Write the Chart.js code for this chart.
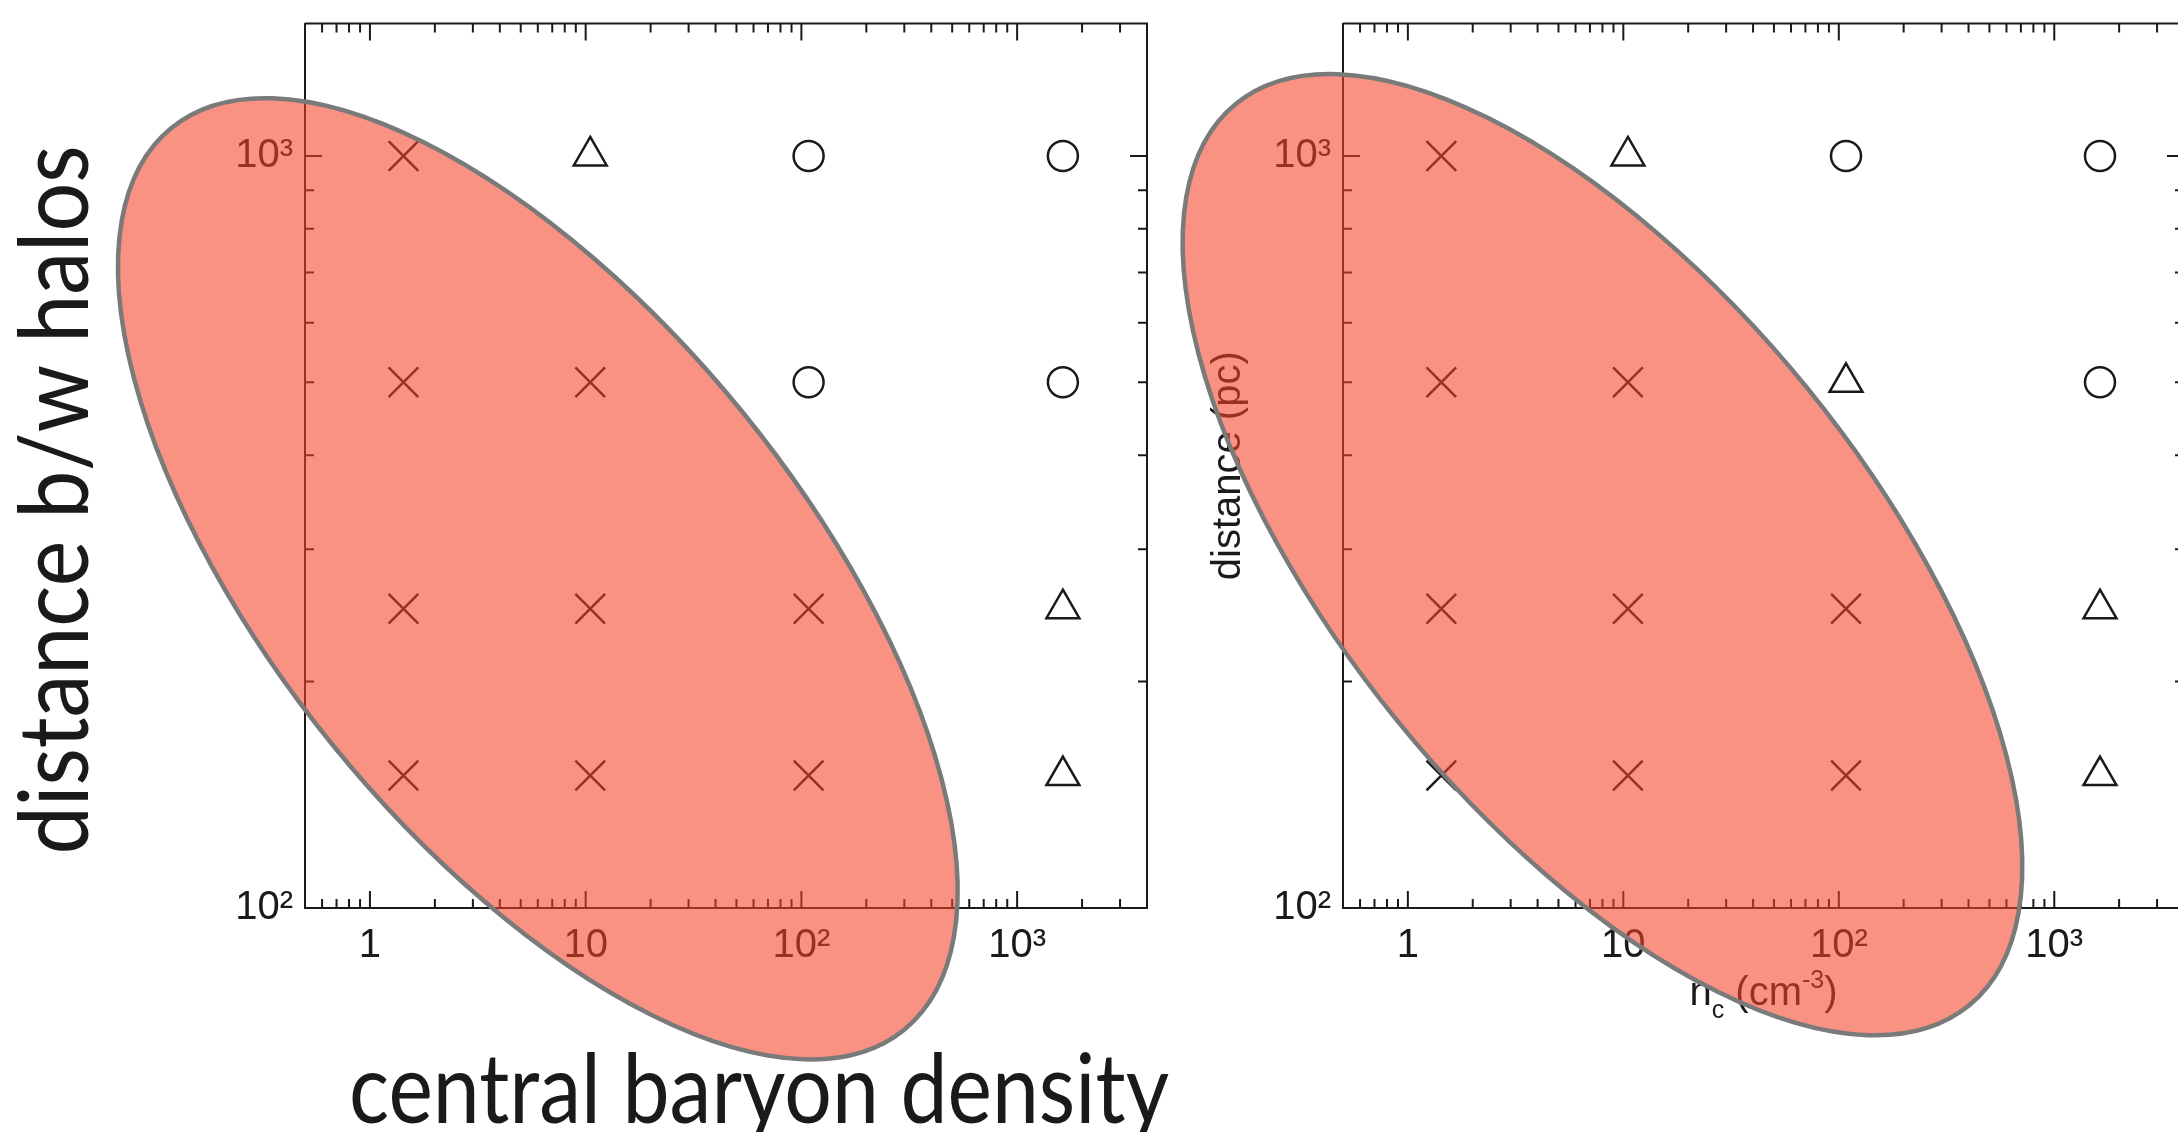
<!DOCTYPE html>
<html>
<head>
<meta charset="utf-8">
<script src="https://cdn.jsdelivr.net/npm/chart.js@4.4.1/dist/chart.umd.min.js"></script>
<style>
  html, body { margin: 0; padding: 0; background: #fff; overflow: hidden; }
  body { width: 2178px; height: 1132px; position: relative; }
  canvas { position: absolute; top: 0; }
  #left { left: 0; }
  #right { left: 1170px; }
</style>
</head>
<body>
<canvas id="left" width="1200" height="1132"></canvas>
<canvas id="right" width="1040" height="1132"></canvas>
<script>
// grid of runs: central density (cm^-3) by halo separation (pc)
const densities = [1.43, 10.5, 108, 1630];
const distances = [1000, 500, 250, 150];

// outcome per row (distance) and column (density): x = cross, t = triangle, o = circle
const outcomesLeft = [
    ['x', 't', 'o', 'o'],
    ['x', 'x', 'o', 'o'],
    ['x', 'x', 'x', 't'],
    ['x', 'x', 'x', 't']
];
const outcomesRight = [
    ['x', 't', 'o', 'o'],
    ['x', 'x', 't', 'o'],
    ['x', 'x', 'x', 't'],
    ['x', 'x', 'x', 't']
];

const xRange = [0.5, 4000];
const yRange = [100, 1500];
const xTickLabels = { 1: '1', 10: '10', 100: '10²', 1000: '10³' };
const yTickLabels = { 100: '10²', 1000: '10³' };
const tickMultipliers = [1, 2, 3, 4, 5, 6, 7, 8, 9];

const ink = '#1a1a1a';
Chart.defaults.font.family = "'Liberation Sans', Arial, sans-serif";

function logTicks(min, max) {
    const out = [];
    for (let e = Math.floor(Math.log10(min)); e <= Math.ceil(Math.log10(max)); e++) {
        tickMultipliers.forEach(m => {
            const v = +(m * Math.pow(10, e)).toPrecision(6);
            if (v >= min && v <= max) out.push(v);
        });
    }
    return out;
}

function isDecade(v) {
    const l = Math.log10(v);
    return Math.abs(l - Math.round(l)) < 1e-9;
}

function pointsFor(outcomes, kind) {
    const pts = [];
    outcomes.forEach((row, i) => {
        row.forEach((k, j) => {
            if (k === kind) pts.push({ x: densities[j], y: distances[i] });
        });
    });
    return pts;
}

// box + inward ticks on all four sides
const frameTicks = {
    id: 'frameTicks',
    afterDatasetsDraw(chart) {
        const { ctx, chartArea: a, scales: { x, y } } = chart;
        ctx.save();
        ctx.strokeStyle = ink;
        ctx.lineWidth = 2;
        ctx.beginPath();
        ctx.moveTo(a.left, a.top);
        ctx.lineTo(a.right, a.top);
        ctx.lineTo(a.right, a.bottom);
        x.ticks.forEach(t => {
            const px = x.getPixelForValue(t.value);
            const len = isDecade(t.value) ? 17 : 9;
            ctx.moveTo(px, a.bottom); ctx.lineTo(px, a.bottom - len);
            ctx.moveTo(px, a.top); ctx.lineTo(px, a.top + len);
        });
        y.ticks.forEach(t => {
            const py = y.getPixelForValue(t.value);
            const len = isDecade(t.value) ? 17 : 9;
            ctx.moveTo(a.left, py); ctx.lineTo(a.left + len, py);
            ctx.moveTo(a.right, py); ctx.lineTo(a.right - len, py);
        });
        ctx.stroke();
        ctx.restore();
    }
};

// extra text: big slide captions and the n_c unit label
const slideText = {
    id: 'slideText',
    afterDraw(chart, args, opts) {
        const ctx = chart.ctx;
        (opts.items || []).forEach(it => {
            ctx.save();
            ctx.fillStyle = ink;
            ctx.translate(it.x, it.y);
            if (it.rotate) ctx.rotate(it.rotate * Math.PI / 180);
            ctx.font = it.font;
            ctx.textBaseline = 'alphabetic';
            ctx.textAlign = 'center';
            if (it.fitWidth) {
                const w = ctx.measureText(it.text).width;
                ctx.scale(it.fitWidth / w, 1);
            }
            ctx.fillText(it.text, 0, 0);
            ctx.restore();
        });
        if (opts.unit) {
            const a = chart.chartArea;
            const cx = (a.left + a.right) / 2;
            const fam = "'Liberation Sans', Arial, sans-serif";
            let total = 0;
            opts.unit.parts.forEach(p => {
                ctx.font = p.size + 'px ' + fam;
                p.w = ctx.measureText(p.t).width;
                total += p.w;
            });
            let x = cx - total / 2;
            ctx.save();
            ctx.fillStyle = ink;
            ctx.textAlign = 'left';
            ctx.textBaseline = 'alphabetic';
            opts.unit.parts.forEach(p => {
                ctx.font = p.size + 'px ' + fam;
                ctx.fillText(p.t, x, opts.unit.baseline + p.dy);
                x += p.w;
            });
            ctx.restore();
        }
    }
};

// translucent highlight ellipse, centred on a data point, drawn over everything
const blob = {
    id: 'blob',
    afterDraw(chart, args, o) {
        const { ctx, scales: { x, y } } = chart;
        const cx = x.getPixelForValue(o.cx);
        const cy = y.getPixelForValue(o.cy);
        ctx.save();
        ctx.beginPath();
        ctx.ellipse(cx, cy, o.a, o.b, o.angle * Math.PI / 180, 0, Math.PI * 2);
        ctx.fillStyle = 'rgba(244, 67, 40, 0.58)';
        ctx.fill();
        ctx.lineWidth = 4.5;
        ctx.strokeStyle = 'rgb(122, 122, 122)';
        ctx.stroke();
        ctx.restore();
    }
};

function makeChart(id, outcomes, cfg) {
    const marker = { showLine: false, borderColor: ink, backgroundColor: 'rgba(0,0,0,0)', borderWidth: 2.5 };
    return new Chart(document.getElementById(id), {
        type: 'scatter',
        data: {
            datasets: [
                Object.assign({ label: 'merged', data: pointsFor(outcomes, 'x'), pointStyle: 'crossRot', pointRadius: 21 }, marker),
                Object.assign({ label: 'partial', data: pointsFor(outcomes, 't'), pointStyle: 'triangle', pointRadius: 19 }, marker),
                Object.assign({ label: 'separate', data: pointsFor(outcomes, 'o'), pointStyle: 'circle', pointRadius: 15 }, marker)
            ]
        },
        plugins: [frameTicks, slideText, blob],
        options: {
            responsive: false,
            animation: false,
            layout: { padding: cfg.padding },
            scales: {
                x: {
                    type: 'logarithmic',
                    min: xRange[0],
                    max: xRange[1],
                    grid: { display: false, drawTicks: false },
                    border: { display: true, color: ink, width: 2 },
                    afterBuildTicks: s => { s.ticks = logTicks(xRange[0], xRange[1]).map(v => ({ value: v })); },
                    afterFit: s => { s.height = 224; s.paddingLeft = 0; s.paddingRight = 0; },
                    ticks: {
                        autoSkip: false,
                        maxRotation: 0,
                        padding: 14,
                        color: ink,
                        font: { size: 40 },
                        callback: v => xTickLabels[v] !== undefined ? xTickLabels[v] : ''
                    }
                },
                y: {
                    type: 'logarithmic',
                    min: yRange[0],
                    max: yRange[1],
                    grid: { display: false, drawTicks: false },
                    border: { display: true, color: ink, width: 2 },
                    afterBuildTicks: s => { s.ticks = logTicks(yRange[0], yRange[1]).map(v => ({ value: v })); },
                    afterFit: s => { s.width = cfg.yWidth; s.paddingTop = 0; s.paddingBottom = 0; },
                    title: cfg.yTitle,
                    ticks: {
                        autoSkip: false,
                        padding: 12,
                        color: ink,
                        font: { size: 40 },
                        callback: v => yTickLabels[v] !== undefined ? yTickLabels[v] : ''
                    }
                }
            },
            plugins: {
                legend: { display: false },
                tooltip: { enabled: false },
                blob: cfg.blob,
                slideText: cfg.text
            }
        }
    });
}

makeChart('left', outcomesLeft, {
    padding: { left: 0, top: 14, right: 53, bottom: 0 },
    yWidth: 305,
    yTitle: { display: false },
    blob: { cx: 6.0, cy: 274, a: 581, b: 264, angle: 50.9 },
    text: {
        items: [
            { text: 'distance b/w halos', x: 88, y: 500, rotate: -90, font: '97px Lato', fitWidth: 709 },
            { text: 'central baryon density', x: 759, y: 1123, rotate: 0, font: '97px Lato', fitWidth: 820 }
        ]
    }
});

makeChart('right', outcomesRight, {
    padding: { left: 0, top: 14, right: 26, bottom: 0 },
    yWidth: 173,
    yTitle: { display: true, text: 'distance (pc)', color: ink, font: { size: 40 }, padding: { top: 35, bottom: 0 } },
    blob: { cx: 8.0, cy: 295, a: 581, b: 264, angle: 50.9 },
    text: {
        unit: {
            baseline: 1005,
            parts: [
                { t: 'n', size: 40, dy: 0 },
                { t: 'c', size: 25, dy: 13 },
                { t: ' (cm', size: 40, dy: 0 },
                { t: '-3', size: 25, dy: -17 },
                { t: ')', size: 40, dy: 0 }
            ]
        }
    }
});
</script>
</body>
</html>
